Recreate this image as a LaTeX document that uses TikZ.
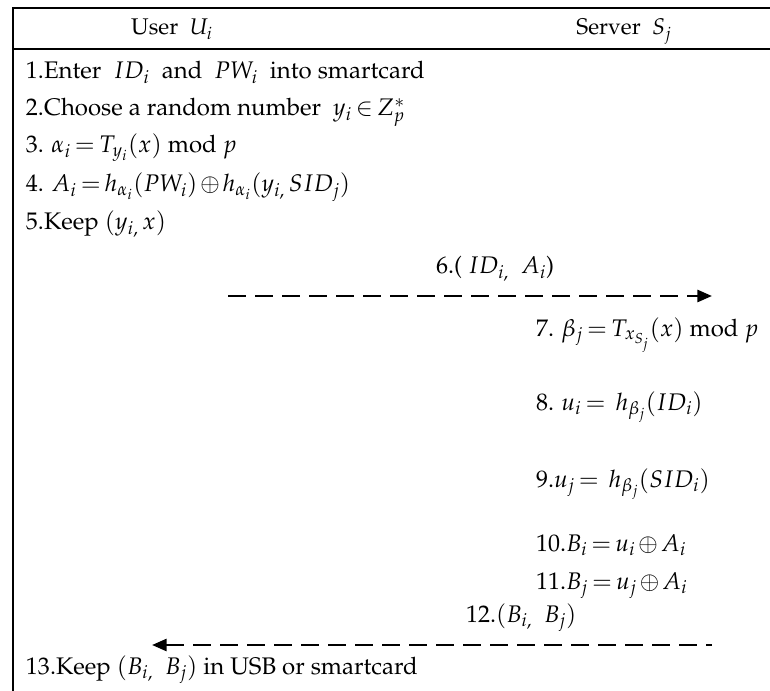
\documentclass[tikz,border=0pt]{standalone}
\usepackage[T1]{fontenc}
\usepackage{mathpazo}
\usetikzlibrary{arrows.meta}
\begin{document}
\thickmuskip=3mu plus 1mu
\medmuskip=2mu plus 1mu
\begin{tikzpicture}[x=0.75pt,y=-0.75pt,
  every node/.style={inner sep=0pt, outer sep=0pt, font=\fontsize{18}{22}\selectfont},
  txt/.style={anchor=base west},
  hdr/.style={anchor=base, font=\fontsize{17}{20}\selectfont},
  frame/.style={line width=1.5pt},
  msgr/.style={line width=2pt, dash pattern=on 13.5pt off 6.75pt, -{Triangle[length=11pt,width=9pt]}},
  msgl/.style={line width=2pt, dash pattern=on 13.5pt off 6.75pt, {Triangle[length=11pt,width=9pt]}-}]
\useasboundingbox (0,0) rectangle (770,691);
% frame
\coordinate (tl) at (13,8);
\coordinate (tr) at (770,8);
\coordinate (bl) at (13,691);
\coordinate (hl) at (13,49);
\coordinate (hr) at (770,49);
\draw[frame] (bl) -- (tl) -- (tr);
\draw[frame] (hl) -- (hr);
% header
\node[hdr] (huser) at (172,35) {User\ \ $U_i$};
\node[hdr] (hserver) at (624,35) {Server\ \ $S_j$};
% user steps
\node[txt] (s1) at (26,79) {1.Enter\ \ $ID_i$\ \ and\ \ $PW_i$\ \ into smartcard};
\node[txt] (s2) at (26,116) {2.Choose a random number\ \ $y_i \in Z_p^{*}$};
\node[txt] (s3) at (26,153) {3. $\alpha_i = T_{y_i}(x)$ mod $p$};
\node[txt] (s4) at (26,192) {4. $A_i = h_{\alpha_i}(PW_i) \oplus h_{\alpha_i}(y_{i,}\,SID_j)$};
\node[txt] (s5) at (26,230) {5.Keep $(y_{i,}\,x)$};
% message 6
\node[txt] (m6) at (436,274) {6.( $ID_{i,}$\ \ $A_i$)};
\coordinate (a6s) at (228,296);
\coordinate (a6e) at (712,296);
\draw[msgr] (a6s) -- (a6e);
% server steps
\node[txt] (s7) at (536,336) {7. $\beta_j = T_{x_{S_j}}(x)$ mod $p$};
\node[txt] (s8) at (536,410) {8. $u_i =\ h_{\beta_j}(ID_i)$};
\node[txt] (s9) at (536,487) {9.$u_j =\ h_{\beta_j}(SID_i)$};
\node[txt] (s10) at (536,551) {10.$B_i = u_i \oplus A_i$};
\node[txt] (s11) at (536,589) {11.$B_j = u_j \oplus A_i$};
% message 12
\node[txt] (m12) at (466,622) {12.$(B_{i,}\ \ B_j)$};
\coordinate (a12s) at (152,645);
\coordinate (a12e) at (712,645);
\draw[msgl] (a12s) -- (a12e);
% step 13
\node[txt] (s13) at (26,674) {13.Keep $(B_{i,}\ \ B_j)$ in USB or smartcard};
\end{tikzpicture}
\end{document}
